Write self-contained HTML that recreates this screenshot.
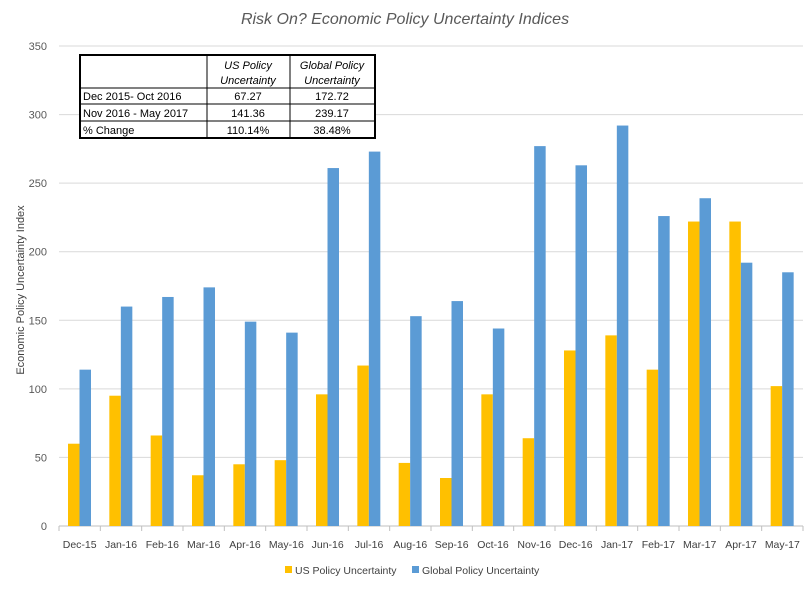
<!DOCTYPE html>
<html><head><meta charset="utf-8"><style>
body{margin:0;background:#fff;font-family:"Liberation Sans",sans-serif}
svg text{font-family:"Liberation Sans",sans-serif}
</style></head><body>
<svg width="812" height="586" id="c">
<text x="405" y="24" text-anchor="middle" font-size="16" font-style="italic" fill="#595959">Risk On? Economic Policy Uncertainty Indices</text>
<text transform="translate(24,290) rotate(-90)" text-anchor="middle" font-size="11" fill="#404040">Economic Policy Uncertainty Index</text>
<g id="grid"></g><g id="bars"></g><g id="xl"></g>
<g>
<rect x="285" y="566" width="7" height="7" fill="#FFC000"/>
<text x="295" y="574" font-size="10.5" fill="#404040">US Policy Uncertainty</text>
<rect x="412" y="566" width="7" height="7" fill="#5B9BD5"/>
<text x="422" y="574" font-size="10.5" fill="#404040">Global Policy Uncertainty</text>
</g>
<g font-size="11" fill="#000">
<rect x="80" y="55" width="295" height="83" fill="#fff" stroke="#000" stroke-width="2"/>
<line x1="207" y1="55" x2="207" y2="138" stroke="#000"/>
<line x1="290" y1="55" x2="290" y2="138" stroke="#000"/>
<line x1="80" y1="88" x2="375" y2="88" stroke="#000"/>
<line x1="80" y1="104" x2="375" y2="104" stroke="#000"/>
<line x1="80" y1="121" x2="375" y2="121" stroke="#000"/>
<text x="248" y="69" text-anchor="middle" font-style="italic">US Policy</text>
<text x="248" y="84" text-anchor="middle" font-style="italic">Uncertainty</text>
<text x="332" y="69" text-anchor="middle" font-style="italic">Global Policy</text>
<text x="332" y="84" text-anchor="middle" font-style="italic">Uncertainty</text>
<text x="83" y="100">Dec 2015- Oct 2016</text>
<text x="248" y="100" text-anchor="middle">67.27</text>
<text x="332" y="100" text-anchor="middle">172.72</text>
<text x="83" y="117">Nov 2016 - May 2017</text>
<text x="248" y="117" text-anchor="middle">141.36</text>
<text x="332" y="117" text-anchor="middle">239.17</text>
<text x="83" y="134">% Change</text>
<text x="248" y="134" text-anchor="middle">110.14%</text>
<text x="332" y="134" text-anchor="middle">38.48%</text>
</g>
</svg>
<script>
const categories=["Dec-15","Jan-16","Feb-16","Mar-16","Apr-16","May-16","Jun-16","Jul-16","Aug-16","Sep-16","Oct-16","Nov-16","Dec-16","Jan-17","Feb-17","Mar-17","Apr-17","May-17"];
const usValues=[60,95,66,37,45,48,96,117,46,35,96,64,128,139,114,222,222,102];
const globalValues=[114,160,167,174,149,141,261,273,153,164,144,277,263,292,226,239,192,185];
const yTicks=[0,50,100,150,200,250,300,350];
const NS="http://www.w3.org/2000/svg";
const x0=59,x1=803,y0=526,y1=46;
const bw=(x1-x0)/categories.length;
function y(v){return y0-(v/350)*(y0-y1);}
function mk(t,a,p){const e=document.createElementNS(NS,t);for(const k in a)e.setAttribute(k,a[k]);p.appendChild(e);return e;}
const g=document.getElementById('grid');
yTicks.forEach(v=>{
 const l=mk('line',{x1:x0,x2:x1,y1:y(v),y2:y(v),stroke:v===0?'#bfbfbf':'#d9d9d9'},g);
 
 
 const t=mk('text',{x:47,y:y(v)+4,'text-anchor':'end','font-size':'11',fill:'#595959'},g);
 t.textContent=v;
 
 
});
const b=document.getElementById('bars'),xl=document.getElementById('xl');
categories.forEach((c,i)=>{
 const cx=x0+i*bw;
 mk('line',{x1:cx,x2:cx,y1:y0,y2:y0+5,stroke:'#bfbfbf'},xl);
 const r1=mk('rect',{x:cx+9,y:y(usValues[i]),width:11.5,height:y0-y(usValues[i]),fill:'#FFC000'},b);
 
 
 const r2=mk('rect',{x:cx+20.5,y:y(globalValues[i]),width:11.5,height:y0-y(globalValues[i]),fill:'#5B9BD5'},b);
 
 
 const t=mk('text',{x:cx+bw/2,y:548,'text-anchor':'middle','font-size':'10.5',fill:'#404040'},xl);
 t.textContent=c;
 
 
});
mk('line',{x1:x1,x2:x1,y1:y0,y2:y0+5,stroke:'#bfbfbf'},xl);
</script>
</body></html>
